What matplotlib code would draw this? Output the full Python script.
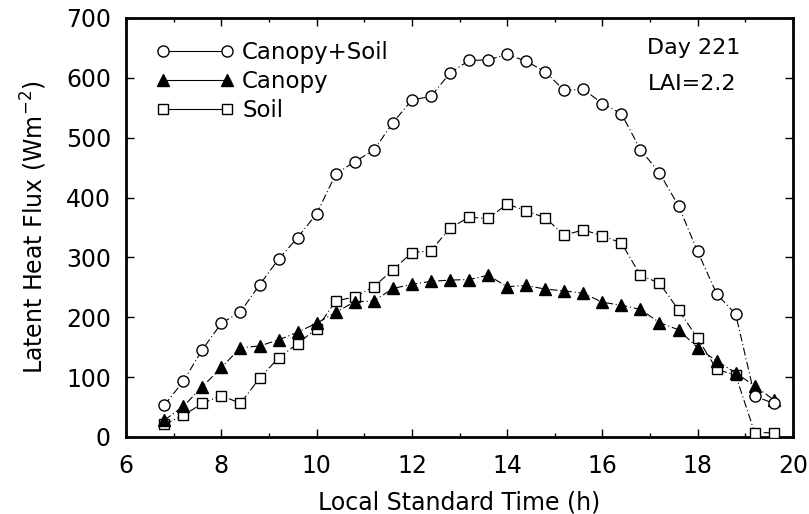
import matplotlib
matplotlib.use("Agg")
import matplotlib.pyplot as plt
from matplotlib.lines import Line2D

time_h = [6.8, 7.2, 7.6, 8.0, 8.4, 8.8, 9.2, 9.6, 10.0, 10.4, 10.8, 11.2, 11.6,
          12.0, 12.4, 12.8, 13.2, 13.6, 14.0, 14.4, 14.8, 15.2, 15.6, 16.0, 16.4,
          16.8, 17.2, 17.6, 18.0, 18.4, 18.8, 19.2, 19.6]
canopy_soil = [53, 93, 146, 190, 209, 254, 297, 333, 373, 439, 460, 479, 525,
               563, 569, 608, 629, 630, 639, 628, 610, 579, 581, 557, 540,
               480, 441, 386, 310, 239, 205, 68, 56]
canopy = [28, 51, 84, 116, 149, 152, 162, 175, 190, 208, 226, 227, 248,
          255, 260, 262, 263, 270, 251, 253, 247, 244, 240, 225, 220,
          213, 191, 179, 149, 127, 107, 85, 62]
soil = [21, 36, 56, 69, 56, 98, 132, 156, 181, 227, 234, 251, 279,
        308, 311, 349, 367, 365, 389, 378, 366, 337, 346, 336, 324,
        270, 257, 212, 165, 113, 103, 7, 7]
labels = ["Canopy+Soil", "Canopy", "Soil"]

plt.rcParams['font.family'] = ['DejaVu Sans']
fig = plt.figure(figsize=(8.09, 5.14), dpi=100)
ax = fig.add_axes([0.156, 0.150, 0.824, 0.815])

dash = (0, (7, 2.5, 1, 2.5))
lw = 0.8
ax.plot(time_h, soil, linestyle=dash, color='black', lw=lw, marker='s', ms=7.5,
        mfc='white', mec='black', mew=1.0, zorder=3)
ax.plot(time_h, canopy, linestyle=dash, color='black', lw=lw, marker='^', ms=8,
        mfc='black', mec='black', zorder=4)
ax.plot(time_h, canopy_soil, linestyle=dash, color='black', lw=lw, marker='o', ms=8,
        mfc='white', mec='black', mew=1.0, zorder=5)

ax.set_xlim(6, 20)
ax.set_ylim(0, 700)
ax.set_xticks(range(6, 21, 2))
ax.set_xticks(range(6, 21, 1), minor=True)
ax.set_yticks(range(0, 701, 100))
ax.tick_params(which='both', direction='in', top=True, right=True, labelsize=17)
ax.tick_params(which='major', length=6, width=1)
ax.tick_params(which='minor', length=3, width=1)
ax.tick_params(axis='x', which='major', pad=12)
ax.tick_params(axis='y', which='major', pad=11)
for s in ax.spines.values():
    s.set_linewidth(2)

ax.set_xlabel('Local Standard Time (h)', fontsize=17, labelpad=9)
ax.set_ylabel(r'Latent Heat Flux (Wm$^{-2}$)', fontsize=17, labelpad=12)

handles = [
    Line2D([], [], color='black', lw=0.8, marker='o', ms=8, mfc='white', mec='black'),
    Line2D([], [], color='black', lw=0.8, marker='^', ms=8, mfc='black', mec='black'),
    Line2D([], [], color='black', lw=0.8, marker='s', ms=7.5, mfc='white', mec='black'),
]
ax.legend(handles, labels, loc='upper left', numpoints=2, frameon=False,
          fontsize=16.5, handlelength=3.4, handletextpad=0.35, labelspacing=0.28,
          borderpad=0, borderaxespad=0, bbox_to_anchor=(0.045, 0.946))

ax.text(0.782, 0.929, 'Day 221', transform=ax.transAxes, ha='left', va='center', fontsize=16)
ax.text(0.782, 0.843, 'LAI=2.2', transform=ax.transAxes, ha='left', va='center', fontsize=16)

fig.savefig('out.png', dpi=100)
